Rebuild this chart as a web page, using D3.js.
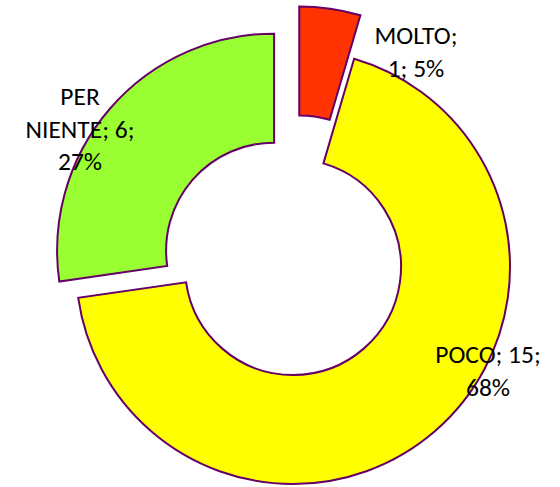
<!DOCTYPE html>
<html>
<head>
<meta charset="utf-8">
<script src="https://cdn.jsdelivr.net/npm/d3@7"></script>
<style>
  body { margin: 0; background: #fff; }
  svg { display: block; }
  .slice { stroke: #660066; stroke-width: 2; }
  .label { font-family: Carlito, Calibri, Lato, sans-serif; font-size: 25.5px; fill: #000; }
</style>
</head>
<body>
<svg id="chart"></svg>
<script>
const categories = ['MOLTO', 'POCO', 'PER NIENTE'];
const values = [1, 15, 6];
const colors = ['#FF3300', '#FFFF00', '#99FF33'];
// how far each slice is pulled out of the ring, in px
const explode = [44, 0, 25];
// wrapped label lines, as Excel laid them out
const labelLines = [
  ['MOLTO;', '1; 5%'],
  ['POCO; 15;', '68%'],
  ['PER', 'NIENTE; 6;', '27%']
];
// label anchor (first baseline) relative to the ring centre
const labelAnchor = [[123, -223], [195, 96], [-213, -162]];

const WIDTH = 560;
const HEIGHT = 487;
const CX = 293;
const CY = 267;
const OUTER = 217;
const INNER = 108;
const LINE_H = 32.5;

const svg = d3.select('#chart')
  .attr('width', WIDTH)
  .attr('height', HEIGHT);

const data = categories.map((c, i) => ({ name: c, value: values[i], i }));

const pie = d3.pie()
  .value((d) => d.value)
  .sort(null);

const arc = d3.arc()
  .innerRadius(INNER)
  .outerRadius(OUTER);

const arcs = pie(data);

const ring = svg.append('g')
  .attr('transform', `translate(${CX},${CY})`);

ring.selectAll('path')
  .data(arcs)
  .enter()
    .append('path')
    .classed('slice', true)
    .attr('fill', (d) => colors[d.data.i])
    .attr('d', arc)
    .attr('transform', (d) => {
      const mid = (d.startAngle + d.endAngle) / 2;
      const off = explode[d.data.i];
      return `translate(${Math.sin(mid) * off},${-Math.cos(mid) * off})`;
    });

const labels = ring.selectAll('text')
  .data(arcs)
  .enter()
    .append('text')
    .classed('label', true)
    .attr('text-anchor', 'middle')
    .attr('x', (d) => labelAnchor[d.data.i][0])
    .attr('y', (d) => labelAnchor[d.data.i][1]);

labels.each(function (d) {
  d3.select(this)
    .selectAll('tspan')
    .data(labelLines[d.data.i])
    .enter()
      .append('tspan')
      .attr('x', labelAnchor[d.data.i][0])
      .attr('dy', (l, j) => j === 0 ? 0 : LINE_H)
      .text((l) => l);
});
</script>
</body>
</html>
